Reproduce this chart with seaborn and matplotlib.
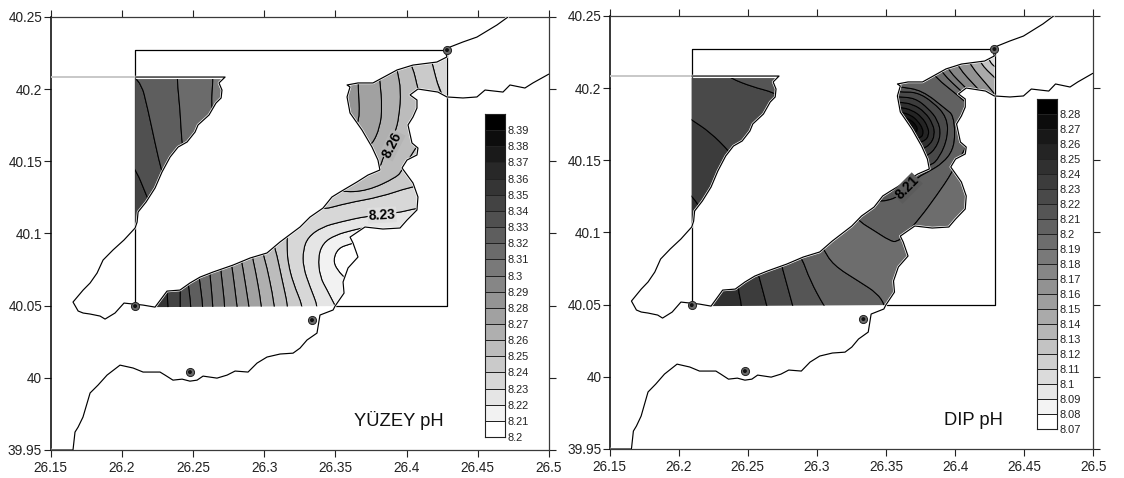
import matplotlib
matplotlib.use('Agg')
import matplotlib.pyplot as plt
import matplotlib.patheffects as pe
from matplotlib.colors import Normalize
from matplotlib.patches import PathPatch, Polygon
from matplotlib.path import Path
import numpy as np
import seaborn as sns

# kiyi cizgileri (lon, lat)
bank_n = ([26.2234, 26.2318, 26.2409, 26.2479, 26.2550, 26.2641, 26.2781, 26.2901, 26.3020, 26.3111, 26.3252, 26.3322, 26.3413, 26.3476, 26.3532, 26.3652, 26.3729, 26.3813, 26.3799, 26.3757, 26.3687, 26.3603, 26.3582, 26.3603, 26.3582, 26.3659, 26.3764, 26.3933, 26.4045, 26.4213, 26.4283],
          [40.0490, 40.0601, 40.0608, 40.0657, 40.0698, 40.0733, 40.0781, 40.0830, 40.0865, 40.0941, 40.1045, 40.1114, 40.1176, 40.1253, 40.1287, 40.1357, 40.1405, 40.1440, 40.1509, 40.1599, 40.1717, 40.1835, 40.1946, 40.2015, 40.2029, 40.2043, 40.2043, 40.2133, 40.2167, 40.2188, 40.2223])
bank_s = ([26.4283, 26.4220, 26.4080, 26.4024, 26.4073, 26.4073, 26.4045, 26.4010, 26.4038, 26.4080, 26.4073, 26.4003, 26.3968, 26.4045, 26.4080, 26.4073, 26.4003, 26.3954, 26.3834, 26.3708, 26.3603, 26.3624, 26.3659, 26.3589, 26.3554, 26.3561, 26.3498],
          [40.1946, 40.1980, 40.2001, 40.1960, 40.1925, 40.1869, 40.1807, 40.1752, 40.1627, 40.1592, 40.1544, 40.1509, 40.1454, 40.1350, 40.1253, 40.1163, 40.1093, 40.1038, 40.1031, 40.1045, 40.0975, 40.0934, 40.0837, 40.0761, 40.0664, 40.0587, 40.0497])
saros = ([26.2726, 26.2683, 26.2704, 26.2698, 26.2662, 26.2613, 26.2536, 26.2515, 26.2459, 26.2396, 26.2340, 26.2283, 26.2234, 26.2171, 26.2115, 26.2108, 26.2094],
         [40.2084, 40.2043, 40.1994, 40.1939, 40.1904, 40.1821, 40.1752, 40.1703, 40.1634, 40.1599, 40.1530, 40.1426, 40.1315, 40.1218, 40.1149, 40.1079, 40.1038])
tip = ([26.2016, 26.1939, 26.1869, 26.1827, 26.1778, 26.1729, 26.1658, 26.1694, 26.1729, 26.1778, 26.1848, 26.1883, 26.1953, 26.2016, 26.2150],
       [40.0955, 40.0886, 40.0816, 40.0726, 40.0657, 40.0608, 40.0525, 40.0463, 40.0449, 40.0442, 40.0428, 40.0407, 40.0449, 40.0518, 40.0504])
north_tail = ([26.4270, 26.4305, 26.4396, 26.4494, 26.4635, 26.4712], [40.2271, 40.2292, 40.2327, 40.2361, 40.2445, 40.2500])
east_coast = ([26.5000, 26.4887, 26.4831, 26.4726, 26.4677, 26.4551, 26.4494, 26.4396],
              [40.2105, 40.2043, 40.2008, 40.2029, 40.1980, 40.1994, 40.1946, 40.1939])
south_coast = ([26.3484, 26.3392, 26.3371, 26.3301, 26.3252, 26.3203, 26.3112, 26.3020, 26.2950, 26.2887, 26.2796, 26.2740, 26.2669, 26.2571, 26.2529, 26.2479, 26.2424, 26.2360, 26.2304, 26.2269, 26.2150, 26.2080, 26.1988, 26.1897, 26.1834, 26.1778, 26.1728, 26.1694, 26.1672, 26.1658, 26.1500],
               [40.0470, 40.0435, 40.0310, 40.0262, 40.0206, 40.0171, 40.0165, 40.0144, 40.0102, 40.0040, 40.0047, 40.0019, 39.9998, 40.0012, 39.9984, 39.9977, 39.9991, 39.9984, 40.0019, 40.0040, 40.0040, 40.0068, 40.0088, 40.0019, 39.9950, 39.9895, 39.9728, 39.9659, 39.9624, 39.9500, 39.9500])

box_lon = [26.2094, 26.2094, 26.4286, 26.4286, 26.3498]
box_lat = [40.0497, 40.2268, 40.2268, 40.0497, 40.0497]
station_lon = [26.2094, 26.2479, 26.3336, 26.4284]
station_lat = [40.0497, 40.0040, 40.0400, 40.2271]

# yuzey izolinleri
y21 = ([26.3603, 26.3582, 26.3512, 26.3484, 26.3519, 26.3603, 26.3652, 26.3743], [40.0643, 40.0678, 40.0747, 40.0816, 40.0899, 40.0927, 40.0941, 40.0816])
y22 = ([26.3533, 26.3484, 26.3442, 26.3392, 26.3378, 26.3413, 26.3498, 26.3624, 26.3722, 26.3778, 26.4094], [40.0435, 40.0525, 40.0608, 40.0698, 40.0837, 40.0934, 40.0989, 40.1024, 40.1045, 40.0955, 40.0955])
y23 = ([26.3378, 26.3378, 26.3322, 26.3273, 26.3273, 26.3308, 26.3406, 26.3533, 26.3722, 26.3933, 26.4073, 26.4130], [40.0435, 40.0490, 40.0629, 40.0768, 40.0886, 40.0976, 40.1045, 40.1080, 40.1121, 40.1142, 40.1176, 40.1183])
y24_main = ([26.3273, 26.3273, 26.3203, 26.3168, 26.3161, 26.3161, 26.3182, 26.3378, 26.3406, 26.3582, 26.3814, 26.4024, 26.4130, 26.4200], [40.0435, 40.0490, 40.0657, 40.0795, 40.0886, 40.0989, 40.1059, 40.1197, 40.1163, 40.1211, 40.1253, 40.1322, 40.1336, 40.1717])
y24_north = ([26.4270, 26.4228, 26.4179, 26.4165], [40.1925, 40.1994, 40.2181, 40.2237])
y25 = ([26.3168, 26.3168, 26.3126, 26.3077, 26.3041, 26.3498, 26.3533, 26.3722, 26.3933, 26.3968, 26.4165, 26.4108, 26.4080, 26.4045, 26.3989], [40.0435, 40.0490, 40.0678, 40.0906, 40.0989, 40.1336, 40.1287, 40.1294, 40.1391, 40.1440, 40.1752, 40.1925, 40.1994, 40.2154, 40.2272])
y26 = ([26.3077, 26.3077, 26.3000, 26.2957, 26.3568, 26.3757, 26.3814, 26.3835, 26.3919, 26.3947, 26.3961, 26.3933, 26.3919], [40.0435, 40.0490, 40.0858, 40.0920, 40.1475, 40.1454, 40.1454, 40.1530, 40.1696, 40.1807, 40.1994, 40.2133, 40.2202])
y27 = ([26.2985, 26.2985, 26.2922, 26.2901, 26.3533, 26.3708, 26.3757, 26.3814, 26.3828, 26.3814, 26.3807], [40.0435, 40.0490, 40.0830, 40.0886, 40.1544, 40.1613, 40.1613, 40.1738, 40.1877, 40.2043, 40.2098])
y28 = ([26.2901, 26.2894, 26.2845, 26.2831, 26.3498, 26.3603, 26.3673, 26.3659, 26.3659], [40.0435, 40.0490, 40.0795, 40.0851, 40.1613, 40.1731, 40.1766, 40.2029, 40.2098])
y29 = ([26.2817, 26.2810, 26.2775, 26.2761, 26.3428, 26.3533, 26.3533, 26.3533], [40.0435, 40.0490, 40.0768, 40.0830, 40.1682, 40.1786, 40.2029, 40.2133])
y30 = ([26.2725, 26.2725, 26.2697, 26.2690], [40.0435, 40.0490, 40.0733, 40.0802])
y31 = ([26.2641, 26.2641, 26.2620, 26.2613], [40.0435, 40.0490, 40.0712, 40.0782])
y32 = ([26.2571, 26.2571, 26.2543, 26.2536], [40.0435, 40.0490, 40.0698, 40.0761])
y33 = ([26.2487, 26.2487, 26.2466, 26.2459], [40.0435, 40.0490, 40.0657, 40.0726])
y34 = ([26.2410, 26.2410, 26.2410, 26.2410], [40.0435, 40.0490, 40.0608, 40.0678])
y35 = ([26.2325, 26.2325, 26.2318, 26.2311], [40.0435, 40.0490, 40.0601, 40.0678])
strip_west = ([26.2199, 26.2199], [40.0435, 40.0678])
cap_east = ([26.4375, 26.4375], [40.1925, 40.2271])

# saros tarafi, yuzey
ya4 = ([26.1988, 26.2087, 26.2178, 26.2234, 26.2024], [40.1578, 40.1475, 40.1253, 40.1128, 40.0989])
ya1 = ([26.2024, 26.2129, 26.2185, 26.2234, 26.2283, 26.2353], [40.2133, 40.2077, 40.1856, 40.1627, 40.1419, 40.1197])
ya2 = ([26.2389, 26.2389, 26.2410, 26.2424, 26.2445], [40.2133, 40.2064, 40.1856, 40.1599, 40.1475])
ya3 = ([26.2641, 26.2641, 26.2627, 26.2655], [40.2133, 40.2064, 40.1856, 40.1786])
gulf_east = ([26.2831, 26.2831], [40.2133, 40.1717])

# dip izolinleri
dt3 = ([26.2009, 26.2096, 26.2147, 26.2212, 26.2045], [40.1329, 40.1253, 40.1183, 40.1086, 40.0982])
dt2 = ([26.2009, 26.2096, 26.2226, 26.2364, 26.2480], [40.1835, 40.1779, 40.1696, 40.1565, 40.1433])
dt1 = ([26.2009, 26.2335, 26.2371, 26.2537, 26.2682, 26.2805], [40.2126, 40.2112, 40.2070, 40.2008, 40.1973, 40.1918])

dr1 = ([26.2458, 26.2458, 26.2429, 26.2429], [40.0428, 40.0490, 40.0608, 40.0670])
dr2 = ([26.2653, 26.2639, 26.2574, 26.2559], [40.0428, 40.0490, 40.0719, 40.0775])
dr3 = ([26.2841, 26.2827, 26.2747, 26.2733], [40.0428, 40.0490, 40.0761, 40.0823])
dr4 = ([26.3094, 26.3051, 26.2950, 26.2892, 26.2841], [40.0428, 40.0490, 40.0670, 40.0823, 40.0892])
d_hop = ([26.3348], [40.1294])
d21_arc = ([26.3384, 26.3456, 26.3579, 26.3652, 26.3731, 26.3804, 26.3912, 26.3985, 26.4000, 26.3985, 26.3941, 26.3760, 26.3601, 26.3529],
           [40.1225, 40.1211, 40.1239, 40.1308, 40.1384, 40.1419, 40.1481, 40.1572, 40.1689, 40.1814, 40.1849, 40.1987, 40.2008, 40.2022])
d20 = ([26.3507, 26.3493, 26.3435, 26.3311, 26.3116, 26.3044, 26.2986, 26.3276, 26.3311, 26.3406, 26.3529, 26.3579, 26.3637, 26.3746, 26.3869, 26.3977, 26.4144, 26.4122, 26.4035, 26.3854, 26.3818],
       [40.0428, 40.0497, 40.0580, 40.0657, 40.0775, 40.0892, 40.0982, 40.1121, 40.1073, 40.1017, 40.0941, 40.0934, 40.0982, 40.1100, 40.1260, 40.1412, 40.1710, 40.1862, 40.1939, 40.2077, 40.2126])
ds2 = ([26.4035, 26.4216, 26.4216, 26.4122, 26.4057, 26.3905, 26.3869], [40.0394, 40.0879, 40.1849, 40.1918, 40.1967, 40.2105, 40.2161])
ds3 = ([26.4144, 26.4093, 26.3948, 26.3912], [40.1939, 40.1987, 40.2125, 40.2195])
ds4 = ([26.4216, 26.4158, 26.4020, 26.3984], [40.1946, 40.2001, 40.2147, 40.2216])
ds5 = ([26.4310, 26.4252, 26.4107, 26.4071], [40.1932, 40.2001, 40.2160, 40.2230])
ds6 = ([26.4346, 26.4288, 26.4180, 26.4144], [40.2022, 40.2070, 40.2174, 40.2244])
ds7 = ([26.4346, 26.4288, 26.4252, 26.4216], [40.2112, 40.2147, 40.2181, 40.2251])
ds_east = ([26.4400, 26.4400], [40.1900, 40.2300])

d22 = ([26.3456, 26.3601, 26.3724, 26.3840, 26.3941, 26.3948, 26.3890, 26.3818, 26.3673], [40.1987, 40.1973, 40.1973, 40.1904, 40.1800, 40.1662, 40.1523, 40.1454, 40.1433])
d23 = ([26.3456, 26.3594, 26.3709, 26.3804, 26.3876, 26.3898, 26.3854, 26.3782, 26.3673], [40.1953, 40.1939, 40.1932, 40.1862, 40.1779, 40.1675, 40.1572, 40.1523, 40.1468])
d24 = ([26.3456, 26.3594, 26.3695, 26.3782, 26.3840, 26.3854, 26.3818, 26.3760, 26.3637], [40.1918, 40.1904, 40.1890, 40.1835, 40.1752, 40.1675, 40.1606, 40.1578, 40.1523])
d25 = ([26.3456, 26.3601, 26.3688, 26.3760, 26.3804, 26.3811, 26.3782, 26.3739, 26.3637], [40.1883, 40.1869, 40.1849, 40.1800, 40.1731, 40.1675, 40.1634, 40.1627, 40.1585])
d26 = ([26.3492, 26.3608, 26.3681, 26.3731, 26.3768, 26.3768, 26.3746, 26.3637], [40.1849, 40.1835, 40.1814, 40.1772, 40.1717, 40.1675, 40.1654, 40.1627])
d27 = ([26.3492, 26.3630, 26.3681, 26.3717, 26.3731, 26.3709, 26.3637], [40.1814, 40.1800, 40.1779, 40.1745, 40.1710, 40.1689, 40.1675])
d28 = ([26.3529, 26.3645, 26.3681, 26.3695, 26.3688, 26.3601], [40.1779, 40.1765, 40.1752, 40.1724, 40.1703, 40.1710])

levels_y = [8.39, 8.38, 8.37, 8.36, 8.35, 8.34, 8.33, 8.32, 8.31, 8.3, 8.29, 8.28, 8.27, 8.26, 8.25, 8.24, 8.23, 8.22, 8.21, 8.2]
levels_d = [8.28, 8.27, 8.26, 8.25, 8.24, 8.23, 8.22, 8.21, 8.2, 8.19, 8.18, 8.17, 8.16, 8.15, 8.14, 8.13, 8.12, 8.11, 8.1, 8.09, 8.08, 8.07]
lon_ticks = [26.15, 26.2, 26.25, 26.3, 26.35, 26.4, 26.45, 26.5]
lat_ticks = [39.95, 40, 40.05, 40.1, 40.15, 40.2, 40.25]


def join(*lines):
    return ([v for l in lines for v in l[0]], [v for l in lines for v in l[1]])


def rev(line):
    return (line[0][::-1], line[1][::-1])


y24 = join(y24_main, y24_north)
d21 = join(dr4, d_hop, d21_arc)

# (seviye, cizgi, cizgi)
bands_y_strait = [
    (8.20, y21, None), (8.21, y21, y22), (8.22, y22, y23), (8.23, y23, y24_main),
    (8.23, y24_north, cap_east), (8.24, y24, y25), (8.25, y25, y26), (8.26, y26, y27),
    (8.27, y27, y28), (8.28, y28, y29), (8.29, y29, y30), (8.30, y30, y31),
    (8.31, y31, y32), (8.32, y32, y33), (8.33, y33, y34), (8.34, y34, y35),
    (8.35, y35, strip_west),
]
bands_y_gulf = [(8.34, ya4, None), (8.33, ya4, ya1), (8.32, ya1, ya2), (8.31, ya2, ya3), (8.30, ya3, gulf_east)]
bands_d_strait = [
    (8.28, d28, None), (8.27, d28, d27), (8.26, d27, d26), (8.25, d26, d25), (8.24, d25, d24),
    (8.23, d24, d23), (8.22, d23, d22), (8.21, d22, rev(d21_arc)),
    (8.24, strip_west, dr1), (8.23, dr1, dr2), (8.22, dr2, dr3), (8.21, dr3, dr4),
    (8.20, d21, d20), (8.19, d20, ds2), (8.18, ds2, ds3), (8.17, ds3, ds4), (8.16, ds4, ds5),
    (8.14, ds5, ds6), (8.12, ds6, ds7), (8.10, ds7, ds_east),
]
bands_d_gulf = [(8.24, dt3, None), (8.23, dt3, dt2), (8.22, dt2, dt1), (8.21, dt1, gulf_east)]

W, H = 1124, 478
sns.set_style('ticks')
plt.rcParams['font.family'] = ['Liberation Sans', 'DejaVu Sans']
fig = plt.figure(figsize=(W / 100, H / 100), dpi=100)

cmap = plt.cm.gray_r
halo = [pe.withStroke(linewidth=1.8, foreground='white')]


def water_patch(ax, line):
    patch = Polygon(np.column_stack(line), closed=True, facecolor='none', edgecolor='none', transform=ax.transData)
    ax.add_patch(patch)
    return patch


# izolinler koselerden yuvarlatilarak cizilir
def curve_verts(line, first):
    p = np.column_stack(line)
    verts = [p[0]]
    codes = [Path.MOVETO if first else Path.LINETO]
    for i in range(1, len(p) - 1):
        end = p[i + 1] if i == len(p) - 2 else (p[i] + p[i + 1]) / 2
        verts += [p[i], end]
        codes += [Path.CURVE3, Path.CURVE3]
    if len(p) == 2:
        verts.append(p[1])
        codes.append(Path.LINETO)
    return verts, codes


def draw_bands(ax, bands, clip, norm):
    for level, a, b in bands:
        verts, codes = curve_verts(a, True)
        if b is not None:
            v2, c2 = curve_verts(rev(b), False)
            verts += v2
            codes += c2
        verts.append(verts[0])
        codes.append(Path.LINETO)
        patch = PathPatch(Path(verts, codes), facecolor=cmap(norm(level)), edgecolor='black', linewidth=0.75, zorder=2)
        ax.add_patch(patch)
        patch.set_clip_path(clip)


def draw_panel(rect, strait_bands, gulf_bands, norm, labels, title, title_pos):
    ax = fig.add_axes(rect)
    ax.set_xlim(26.15, 26.5)
    ax.set_ylim(39.95, 40.25)

    strait = join(bank_n, bank_s)
    gulf = join(([26.2094, 26.2698], [40.2070, 40.2070]), (saros[0][1:], saros[1][1:]))
    draw_bands(ax, strait_bands, water_patch(ax, strait), norm)
    draw_bands(ax, gulf_bands, water_patch(ax, gulf), norm)

    sns.lineplot(x=box_lon, y=box_lat, color='black', linewidth=0.9, estimator=None, sort=False, ax=ax, zorder=1)
    sns.lineplot(x=[26.15, 26.2094], y=[40.2084, 40.2084], color='#c4c4c4', linewidth=1.3, estimator=None, sort=False, ax=ax, zorder=3)

    peninsula = join(([26.2094], [40.2084]), saros, tip, bank_n, north_tail)
    asia = join(east_coast, bank_s, south_coast)
    for line in (peninsula, asia):
        sns.lineplot(x=line[0], y=line[1], color='black', linewidth=0.85, estimator=None, sort=False, ax=ax, zorder=3, path_effects=halo)

    sns.scatterplot(x=station_lon, y=station_lat, s=34, color='#6a6a6a', edgecolor='#222222', linewidth=0.7, ax=ax, zorder=4)
    sns.scatterplot(x=station_lon, y=station_lat, s=8, color='#111111', edgecolor='none', ax=ax, zorder=5)

    for text, lon, lat, angle, level in labels:
        ax.text(lon, lat, text, fontsize=10, fontweight='bold', color='black', rotation=angle, ha='center', va='center', zorder=6,
                bbox=dict(facecolor=cmap(norm(level)), edgecolor='none', pad=0.6))

    ax.text(title_pos[0], title_pos[1], title, fontsize=13.2, ha='center', va='center', color='#111111', zorder=6)

    ax.set_xticks(lon_ticks)
    ax.set_xticklabels(['%g' % v for v in lon_ticks])
    ax.set_yticks(lat_ticks)
    ax.set_yticklabels(['%g' % v for v in lat_ticks])
    ax.tick_params(top=True, right=True, length=5, width=0.8, labelsize=9.8, color='#222222', labelcolor='#222222')
    ax.tick_params(axis='x', pad=3)
    ax.tick_params(axis='y', pad=1)
    for side, sp in ax.spines.items():
        sp.set_visible(True)
        sp.set_linewidth(1.1 if side == 'left' else 0.9)
        sp.set_color('black' if side == 'left' else '#3a3a3a')
    ax.set_xlabel('')
    ax.set_ylabel('')
    return ax


def draw_colorbar(rect, levels, norm):
    cax = fig.add_axes(rect)
    values = np.array(levels).reshape(-1, 1)
    sns.heatmap(values, cmap=cmap, norm=norm, cbar=False, linewidths=0.6, linecolor='#222222', xticklabels=False, yticklabels=False, ax=cax)
    cax.yaxis.tick_right()
    cax.set_yticks(np.arange(1, len(levels) + 1))
    cax.set_yticklabels(['%g' % v for v in levels], rotation=0)
    cax.tick_params(axis='y', length=0, labelsize=7.9, pad=2, labelcolor='#222222')
    for sp in cax.spines.values():
        sp.set_visible(True)
        sp.set_linewidth(0.8)
        sp.set_color('#222222')


norm_y = Normalize(vmin=8.20, vmax=8.39)
norm_d = Normalize(vmin=8.07, vmax=8.28)

rect_y = [50.5 / W, 28 / H, 498.5 / W, 433 / H]
rect_d = [609.6 / W, 29 / H, 483.8 / W, 433 / H]

draw_panel(rect_y, bands_y_strait, bands_y_gulf, norm_y,
           [('8.26', 26.3898, 40.1613, 63, 8.255), ('8.23', 26.3828, 40.1128, 3, 8.225)],
           'YÜZEY pH', (26.3947, 39.9707))
draw_panel(rect_d, bands_d_strait, bands_d_gulf, norm_d,
           [('8.21', 26.3652, 40.1308, 45, 8.205)],
           'DIP pH', (26.4129, 39.9700))

draw_colorbar([485 / W, (H - 437) / H, 20 / W, 323 / H], levels_y, norm_y)
draw_colorbar([1037 / W, (H - 429) / H, 20 / W, 330 / H], levels_d, norm_d)

fig.savefig('out.png', dpi=100)
